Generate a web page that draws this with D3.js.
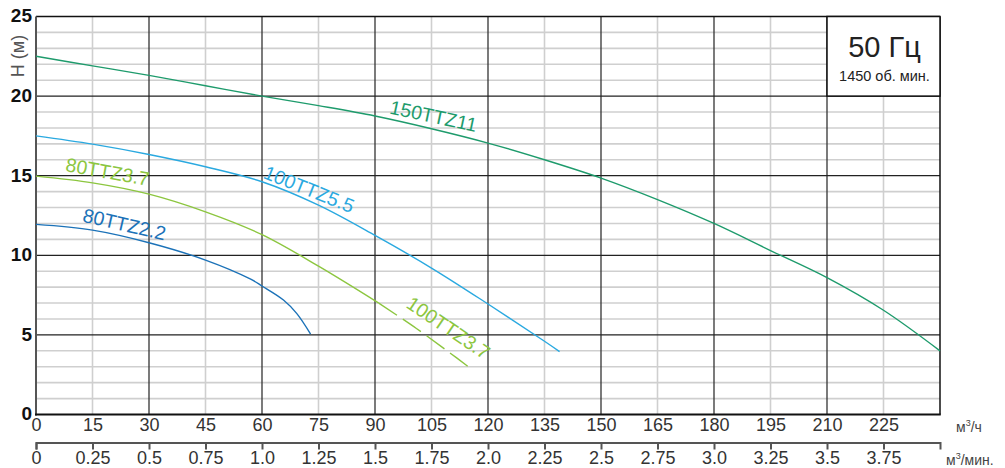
<!DOCTYPE html>
<html>
<head>
<meta charset="utf-8">
<script src="https://cdn.jsdelivr.net/npm/d3@7"></script>
<style>
  html, body { margin: 0; padding: 0; background: #fff; }
  svg { display: block; font-family: "Liberation Sans", Arial, Helvetica, sans-serif; }
</style>
</head>
<body>
<svg id="chart" width="1005" height="468"></svg>
<script>
// ---- data ----
const flow150TTZ11 = [0, 15, 30, 45, 60, 75, 90, 105, 120, 135, 150, 165, 180, 195, 210, 225, 240];
const head150TTZ11 = [22.5, 21.9, 21.3, 20.65, 20.0, 19.4, 18.75, 17.95, 17.05, 16.0, 14.85, 13.5, 12.0, 10.3, 8.6, 6.55, 4.0];

const flow100TTZ55 = [0, 15, 30, 45, 60, 75, 90, 105, 120, 135, 139];
const head100TTZ55 = [17.5, 16.98, 16.33, 15.56, 14.62, 13.15, 11.25, 9.2, 6.94, 4.6, 3.95];

const flow80TTZ37 = [0, 15, 30, 45, 60, 75, 91];
const head80TTZ37 = [14.97, 14.55, 13.84, 12.73, 11.3, 9.32, 7.0];

const flow100TTZ37 = [91, 101, 110, 114.8];
const head100TTZ37 = [7.0, 5.4, 3.85, 3.0];

const flow80TTZ22 = [0, 15, 30, 45, 57, 60, 65.7, 69.2, 72.9];
const head80TTZ22 = [11.94, 11.58, 10.79, 9.7, 8.5, 8.07, 7.19, 6.35, 5.05];

const yTicks = [0, 5, 10, 15, 20, 25];
const xTicksM3h = [0, 15, 30, 45, 60, 75, 90, 105, 120, 135, 150, 165, 180, 195, 210, 225];
const xTicksM3min = [0, 0.25, 0.5, 0.75, 1.0, 1.25, 1.5, 1.75, 2.0, 2.25, 2.5, 2.75, 3.0, 3.25, 3.5, 3.75];
const xTickLabelsM3min = ["0", "0.25", "0.5", "0.75", "1.0", "1.25", "1.5", "1.75", "2.0", "2.25", "2.5", "2.75", "3.0", "3.25", "3.5", "3.75"];

const curveNames = ["150TTZ11", "100TTZ5.5", "80TTZ3.7", "80TTZ2.2", "100TTZ3.7"];

// ---- layout ----
const svg = d3.select("#chart");
const L = 36, R = 940, T = 16.5, B = 414.5;
const x = d3.scaleLinear().domain([0, 240]).range([L, R]);
const x2 = d3.scaleLinear().domain([0, 4]).range([L, R]);
const y = d3.scaleLinear().domain([0, 25]).range([B, T]);

const colors = {
  "150TTZ11": "#1e9b6c",
  "100TTZ5.5": "#2aa9e0",
  "80TTZ3.7": "#8cc63f",
  "80TTZ2.2": "#1b72b8",
  "100TTZ3.7": "#8cc63f"
};

// ---- grid ----
const grid = svg.append("g");
const minorY = d3.range(1, 25).filter(v => v % 5 !== 0);
grid.selectAll(".hminor").data(minorY).join("line")
  .attr("x1", L).attr("x2", R).attr("y1", d => y(d)).attr("y2", d => y(d))
  .attr("stroke", "#cfcfcf").attr("stroke-width", 1.6);
const minorX = d3.range(15, 240, 30);
grid.selectAll(".vminor").data(minorX).join("line")
  .attr("x1", d => x(d)).attr("x2", d => x(d)).attr("y1", T).attr("y2", B)
  .attr("stroke", "#cfcfcf").attr("stroke-width", 1.6);
const majorX = d3.range(30, 240, 30);
grid.selectAll(".vmajor").data(majorX).join("line")
  .attr("x1", d => x(d)).attr("x2", d => x(d)).attr("y1", T).attr("y2", B)
  .attr("stroke", "#333").attr("stroke-width", 1.3);
const majorY = [5, 10, 15, 20];
grid.selectAll(".hmajor").data(majorY).join("line")
  .attr("x1", L).attr("x2", R).attr("y1", d => y(d)).attr("y2", d => y(d))
  .attr("stroke", "#222").attr("stroke-width", 1.3);

// frame
svg.append("line").attr("x1", L).attr("x2", R).attr("y1", T).attr("y2", T).attr("stroke", "#111").attr("stroke-width", 1.5);
svg.append("line").attr("x1", R).attr("x2", R).attr("y1", T).attr("y2", B).attr("stroke", "#111").attr("stroke-width", 1.5);
svg.append("line").attr("x1", L).attr("x2", L).attr("y1", T).attr("y2", B + 1).attr("stroke", "#555").attr("stroke-width", 2);
svg.append("line").attr("x1", L - 1).attr("x2", R + 0.75).attr("y1", B).attr("y2", B).attr("stroke", "#111").attr("stroke-width", 2);

// ---- curves ----
const line = d3.line().x(d => x(d[0])).y(d => y(d[1])).curve(d3.curveCatmullRom.alpha(0.5));
function drawCurve(flows, heads, color, dash) {
  const pts = flows.map((f, i) => [f, heads[i]]);
  const p = svg.append("path").datum(pts).attr("d", line)
    .attr("fill", "none").attr("stroke", color).attr("stroke-width", 1.4);
  if (dash) p.attr("stroke-dasharray", dash);
}
drawCurve(flow150TTZ11, head150TTZ11, colors["150TTZ11"]);
drawCurve(flow100TTZ55, head100TTZ55, colors["100TTZ5.5"]);
drawCurve(flow80TTZ37, head80TTZ37, colors["80TTZ3.7"]);
drawCurve(flow100TTZ37, head100TTZ37, colors["100TTZ3.7"], "22,7");
drawCurve(flow80TTZ22, head80TTZ22, colors["80TTZ2.2"]);

// ---- curve labels ----
const labelSpecs = [
  { name: curveNames[0], q: 105.5, h: 18.75, rot: 12 },
  { name: curveNames[1], q: 72.5, h: 14.15, rot: 22 },
  { name: curveNames[2], q: 19, h: 15.25, rot: 10 },
  { name: curveNames[3], q: 23.5, h: 11.95, rot: 13 },
  { name: curveNames[4], q: 109.5, h: 5.45, rot: 34 }
];
svg.selectAll(".clabel").data(labelSpecs).join("text")
  .attr("transform", d => `translate(${x(d.q)},${y(d.h)}) rotate(${d.rot})`)
  .attr("text-anchor", "middle").attr("dy", "0.35em")
  .attr("font-size", 19.5).attr("fill", d => colors[d.name])
  .text(d => d.name);

// ---- legend box ----
const boxX0 = x(210), boxY1 = y(20);
svg.append("rect").attr("x", boxX0).attr("y", T).attr("width", R - boxX0).attr("height", boxY1 - T)
  .attr("fill", "#fff").attr("stroke", "#111").attr("stroke-width", 1.5);
svg.append("text").attr("x", (boxX0 + R) / 2 + 1).attr("y", 57)
  .attr("text-anchor", "middle").attr("font-size", 29).attr("fill", "#222").text("50 Гц");
svg.append("text").attr("x", (boxX0 + R) / 2 + 1).attr("y", 81)
  .attr("text-anchor", "middle").attr("font-size", 14.5).attr("fill", "#222").text("1450 об. мин.");

// ---- Y axis ----
const yAxis = svg.append("g").attr("transform", `translate(${L},0)`)
  .call(d3.axisLeft(y).tickValues(yTicks).tickSize(0).tickPadding(4).tickFormat(d3.format("d")));
yAxis.select(".domain").remove();
yAxis.selectAll("text").attr("font-size", 19).attr("font-weight", "bold").attr("fill", "#111")
  .attr("font-family", "'Liberation Sans', Arial, sans-serif").attr("dy", "0.28em");

svg.append("text").attr("transform", `translate(24,56) rotate(-90)`)
  .attr("text-anchor", "middle").attr("font-size", 18).attr("fill", "#555").text("H (м)");

// ---- X axis (m3/h) ----
const xAxis = svg.append("g").attr("transform", `translate(0,${B})`)
  .call(d3.axisBottom(x).tickValues(xTicksM3h).tickSize(0).tickPadding(4).tickFormat(d3.format("d")));
xAxis.select(".domain").remove();
xAxis.selectAll("text").attr("font-size", 18).attr("fill", "#333")
  .attr("font-family", "'Liberation Sans', Arial, sans-serif");

// ---- X axis (m3/min) ----
const x2Axis = svg.append("g").attr("transform", `translate(0,442.5)`)
  .call(d3.axisBottom(x2).tickValues(xTicksM3min).tickSize(7).tickSizeOuter(7).tickPadding(4)
    .tickFormat((d, i) => xTickLabelsM3min[i]));
x2Axis.select(".domain").attr("stroke", "#555").attr("stroke-width", 2);
x2Axis.selectAll(".tick line").attr("stroke", "#555").attr("stroke-width", 2);
x2Axis.selectAll("text").attr("font-size", 18).attr("fill", "#333")
  .attr("font-family", "'Liberation Sans', Arial, sans-serif").attr("dy", "0.6em");

// ---- unit labels ----
const u1 = svg.append("text").attr("x", 956).attr("y", 432).attr("font-size", 14).attr("fill", "#444");
u1.append("tspan").text("м");
u1.append("tspan").attr("font-size", 9).attr("dy", -6).text("3");
u1.append("tspan").attr("dy", 6).text("/ч");
const u2 = svg.append("text").attr("x", 946).attr("y", 465).attr("font-size", 14).attr("fill", "#444");
u2.append("tspan").text("м");
u2.append("tspan").attr("font-size", 9).attr("dy", -6).text("3");
u2.append("tspan").attr("dy", 6).text("/мин.");
</script>
</body>
</html>
